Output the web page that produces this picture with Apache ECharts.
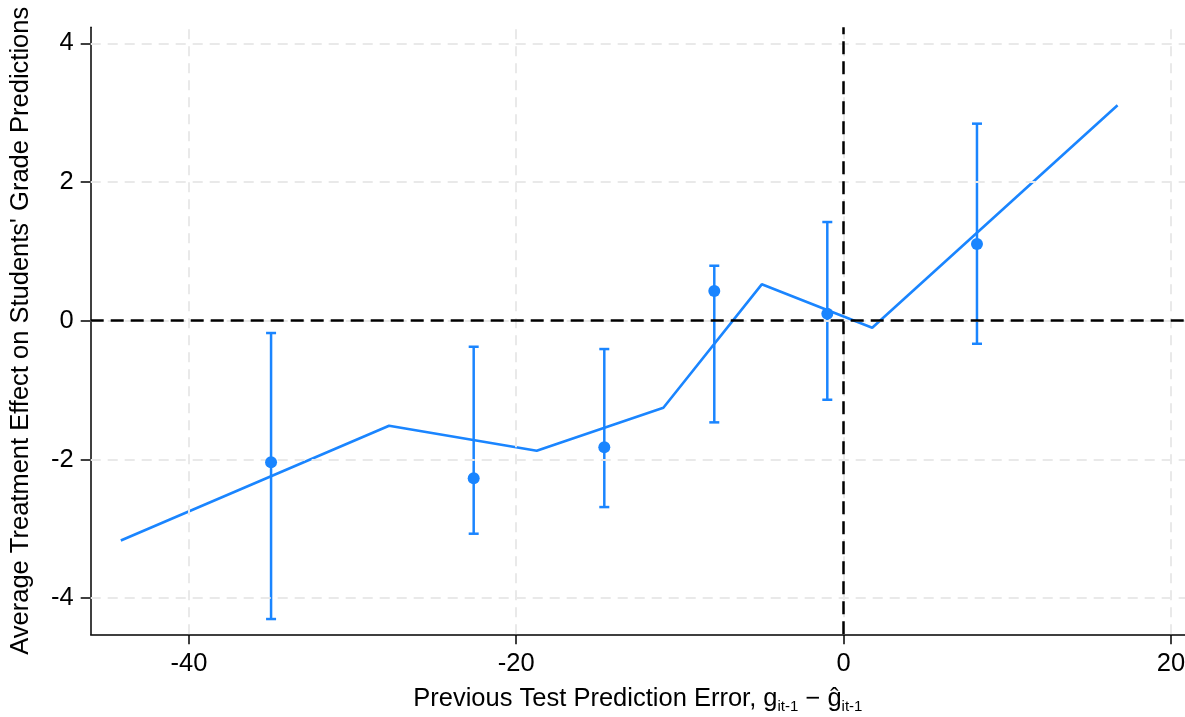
<!DOCTYPE html>
<html><head><meta charset="utf-8">
<script src="https://cdn.jsdelivr.net/npm/echarts@6/dist/echarts.min.js"></script>
<style>html,body{margin:0;padding:0;background:#fff}#c{width:1185px;height:717px}</style>
</head><body><div id="c"></div>
<script>
// Fitted line (binned local fit)
const lineX = [-44.16, -27.77, -18.75, -11.01, -5.0, 1.75, 16.74];
const lineY = [-3.167, -1.514, -1.875, -1.254, 0.525, -0.10, 3.106];
// Point estimates with confidence intervals
const estX = [-34.98, -22.6, -14.62, -7.90, -0.995, 8.15];
const estY = [-2.04, -2.27, -1.825, 0.428, 0.101, 1.106];
const ciLow = [-4.30, -3.07, -2.686, -1.465, -1.139, -0.332];
const ciHigh = [-0.177, -0.375, -0.408, 0.793, 1.423, 2.841];
// Ticks
const xTicks = [-40, -20, 0, 20];
const yTicks = [-4, -2, 0, 2, 4];

const BLUE = '#1a85ff';
const FONT = '"Liberation Sans", Arial, sans-serif';
const FS = 25.5;

const lineData = lineX.map((x, i) => [x, lineY[i]]);
const estData = estX.map((x, i) => [x, estY[i]]);
const ciData = estX.map((x, i) => [x, ciLow[i], ciHigh[i]]);

const gridLines = xTicks.map(v => ({ xAxis: v })).concat(yTicks.map(v => ({ yAxis: v })));

const chart = echarts.init(document.getElementById('c'), null, { renderer: 'canvas' });
chart.setOption({
  animation: false,
  backgroundColor: '#fff',
  textStyle: { fontFamily: FONT },
  grid: { left: 90.7, right: 0, top: 27.3, bottom: 82.7, outerBoundsMode: 'none', containLabel: false },
  xAxis: {
    type: 'value', min: -46, max: 20.86,
    name: 'Previous Test Prediction Error, {m|g}{s|it-1}{m| − ĝ}{s|it-1}',
    nameLocation: 'middle', nameGap: 49,
    nameTextStyle: {
      color: '#000', fontSize: FS, fontFamily: FONT,
      rich: {
        m: { fontSize: FS, fontFamily: FONT, color: '#000', lineHeight: 31 },
        s: { fontSize: 15, fontFamily: FONT, color: '#000', lineHeight: 15, verticalAlign: 'bottom' }
      },
      lineHeight: 31
    },
    axisLine: { show: true, onZero: false, lineStyle: { color: '#000', width: 1.5 } },
    axisTick: { show: true, length: 10, customValues: xTicks, lineStyle: { color: '#000', width: 1.5 } },
    axisLabel: { customValues: xTicks, fontSize: FS, color: '#000', fontFamily: FONT, margin: 17 },
    splitLine: { show: false }
  },
  yAxis: {
    type: 'value', min: -4.52, max: 4.23,
    name: "Average Treatment Effect on Students' Grade Predictions",
    nameLocation: 'middle', nameGap: 57, nameRotate: 90,
    nameTextStyle: { color: '#000', fontSize: FS, fontFamily: FONT },
    axisLine: { show: true, onZero: false, lineStyle: { color: '#000', width: 1.5 } },
    axisTick: { show: true, length: 10, customValues: yTicks, lineStyle: { color: '#000', width: 1.5 } },
    axisLabel: { customValues: yTicks, fontSize: FS, color: '#000', fontFamily: FONT, margin: 17 },
    splitLine: { show: false }
  },
  series: [
    {
      type: 'line', data: [], silent: true, z: 0,
      markLine: {
        silent: true, symbol: 'none', label: { show: false }, animation: false,
        lineStyle: { color: '#e9e9e9', type: [10, 7], width: 2 },
        data: gridLines
      }
    },
    {
      type: 'line', data: [], silent: true, z: 1,
      markLine: {
        silent: true, symbol: 'none', label: { show: false }, animation: false,
        lineStyle: { color: '#000', type: [13, 7], width: 2.5 },
        data: [{ yAxis: 0 }, { xAxis: 0 }]
      }
    },
    {
      type: 'custom', z: 3, data: ciData,
      encode: { x: 0, y: [1, 2] },
      renderItem: function (params, api) {
        const x = api.value(0), lo = api.value(1), hi = api.value(2);
        const a = api.coord([x, lo]), b = api.coord([x, hi]);
        const w = 5;
        const st = { stroke: BLUE, lineWidth: 2.5 };
        return {
          type: 'group', children: [
            { type: 'line', shape: { x1: a[0], y1: a[1], x2: b[0], y2: b[1] }, style: st },
            { type: 'line', shape: { x1: a[0] - w, y1: a[1], x2: a[0] + w, y2: a[1] }, style: st },
            { type: 'line', shape: { x1: b[0] - w, y1: b[1], x2: b[0] + w, y2: b[1] }, style: st }
          ]
        };
      }
    },
    {
      type: 'line', z: 4, data: lineData, showSymbol: false, symbol: 'none',
      lineStyle: { color: BLUE, width: 2.6 }
    },
    {
      type: 'scatter', z: 5, data: estData, symbol: 'circle', symbolSize: 12,
      itemStyle: { color: BLUE, opacity: 1 }
    }
  ]
});
</script>
</body></html>
